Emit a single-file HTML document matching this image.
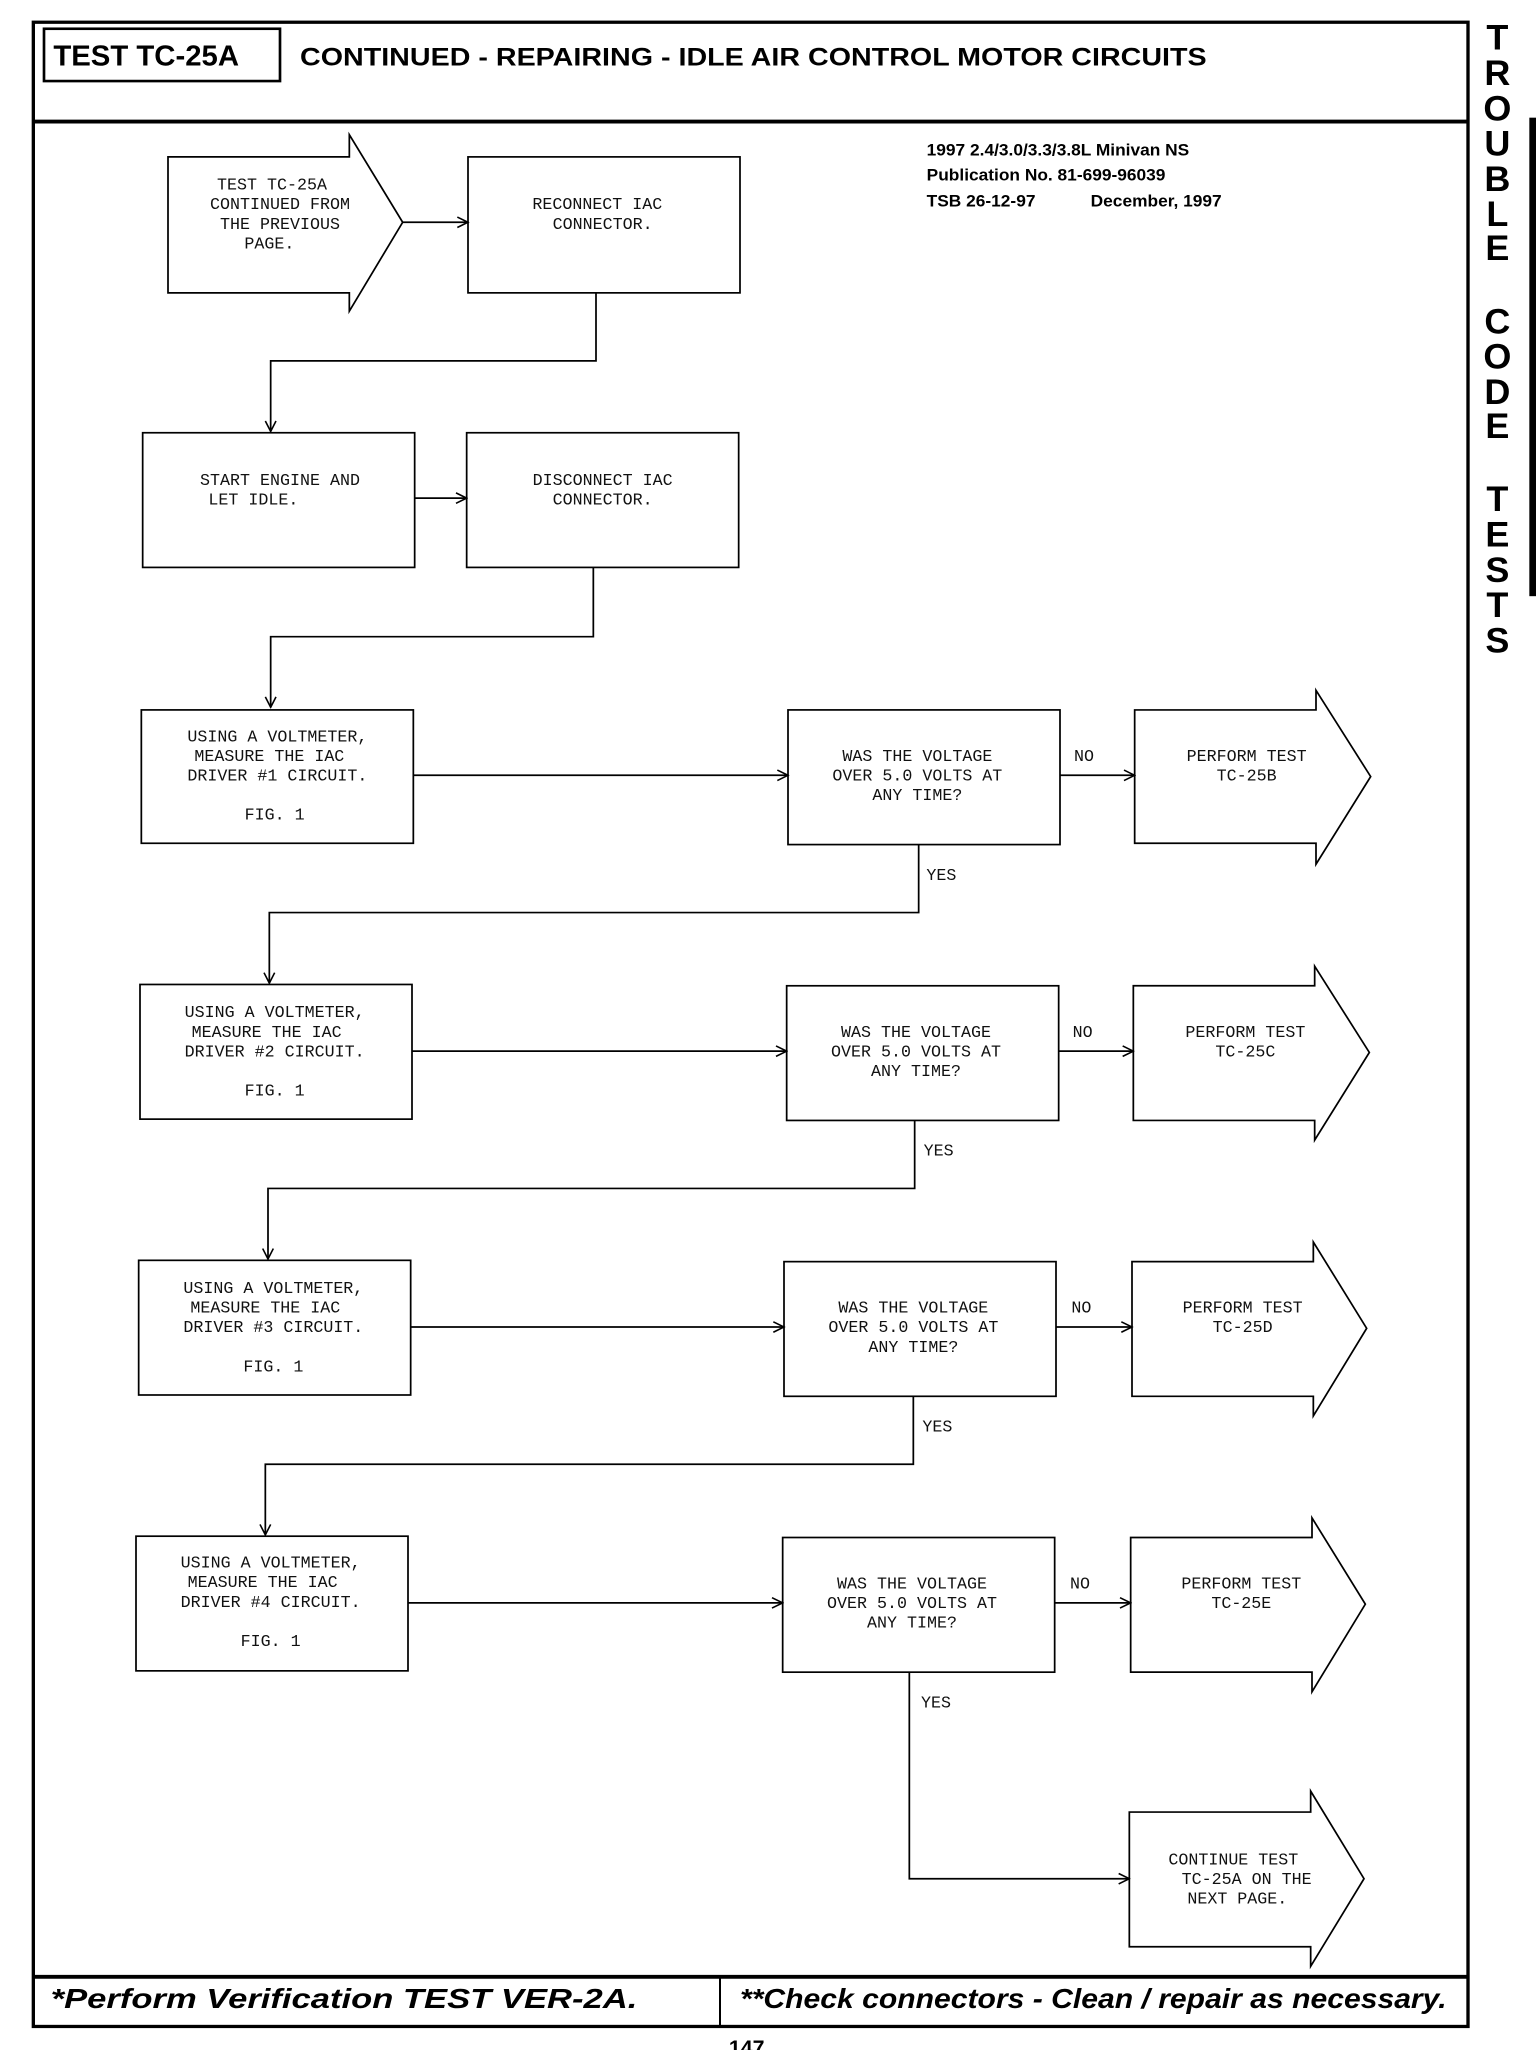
<!DOCTYPE html>
<html><head><meta charset="utf-8"><style>
html,body{margin:0;padding:0;background:#fff;}
svg{display:block;}
.m{font-family:"Liberation Mono",monospace;font-size:12.5px;fill:#111;}
.h{font-family:"Liberation Sans",sans-serif;font-weight:bold;fill:#000;}
</style></head><body>
<svg width="1536" height="2050" viewBox="0 0 1152 1568" preserveAspectRatio="none" xmlns="http://www.w3.org/2000/svg">
<defs><marker id="a" markerWidth="10" markerHeight="10" refX="9" refY="5" orient="auto" markerUnits="userSpaceOnUse"><path d="M1,1 L9,5 L1,9" fill="none" stroke="#000" stroke-width="1.2"/></marker></defs>
<g fill="none" stroke="#000">
<rect x="25" y="17" width="1076" height="1533" stroke-width="2.5"/>
<rect x="33" y="22" width="177" height="40" stroke-width="2"/>
<line x1="25" y1="93" x2="1101" y2="93" stroke-width="3"/>
<line x1="25" y1="1512" x2="1101" y2="1512" stroke-width="3"/>
<line x1="540" y1="1512" x2="540" y2="1550" stroke-width="1.5"/>
</g>
<rect x="1147" y="90" width="5" height="366" fill="#000"/>
<text class="h" x="40" y="50" font-size="22">TEST TC-25A</text>
<text class="h" x="225" y="50" font-size="19" textLength="680" lengthAdjust="spacingAndGlyphs">CONTINUED - REPAIRING - IDLE AIR CONTROL MOTOR CIRCUITS</text>
<g class="h" font-size="13" font-weight="normal" style="font-weight:600">
<text x="695" y="119">1997 2.4/3.0/3.3/3.8L Minivan NS</text>
<text x="695" y="138">Publication No. 81-699-96039</text>
<text x="695" y="158">TSB 26-12-97</text><text x="818" y="158">December, 1997</text>
</g>
<g class="h" font-size="27" text-anchor="middle">
<text x="1123" y="38">T</text><text x="1123" y="65">R</text><text x="1123" y="92">O</text><text x="1123" y="119">U</text><text x="1123" y="146">B</text><text x="1123" y="173">L</text><text x="1123" y="199">E</text>
<text x="1123" y="255">C</text><text x="1123" y="282">O</text><text x="1123" y="309">D</text><text x="1123" y="335">E</text>
<text x="1123" y="391">T</text><text x="1123" y="418">E</text><text x="1123" y="445">S</text><text x="1123" y="472">T</text><text x="1123" y="499">S</text>
</g>
<g class="h" font-size="21" font-style="italic">
<text x="38" y="1536" textLength="440" lengthAdjust="spacingAndGlyphs">*Perform Verification TEST VER-2A.</text>
<text x="555" y="1536" textLength="530" lengthAdjust="spacingAndGlyphs">**Check connectors - Clean / repair as necessary.</text>
</g>
<text class="h" x="560" y="1572" font-size="16" text-anchor="middle">147</text>

<g fill="none" stroke="#000" stroke-width="1.3">
<path d="M126,120 H262 V103 L302,170 L262,238 V224 H126 Z"/>
<rect x="351" y="120" width="204" height="104"/>
<line x1="302" y1="170" x2="351" y2="170" marker-end="url(#a)"/>
<path d="M447,224 V276 H203 V330" marker-end="url(#a)"/>
<rect x="107" y="331" width="204" height="103"/>
<rect x="350" y="331" width="204" height="103"/>
<line x1="311" y1="381" x2="350" y2="381" marker-end="url(#a)"/>
<path d="M445,434 V487 H203 V541" marker-end="url(#a)"/>
<!-- row1 -->
<rect x="106" y="543" width="204" height="102"/>
<rect x="591" y="543" width="204" height="103"/>
<path d="M851,543 H987 V528 L1028,594 L987,661 V645 H851 Z"/>
<line x1="310" y1="593" x2="591" y2="593" marker-end="url(#a)"/>
<line x1="795" y1="593" x2="851" y2="593" marker-end="url(#a)"/>
<path d="M689,646 V698 H202 V752" marker-end="url(#a)"/>
<!-- row2 -->
<rect x="105" y="753" width="204" height="103"/>
<rect x="590" y="754" width="204" height="103"/>
<path d="M850,754 H986 V739 L1027,805 L986,872 V857 H850 Z"/>
<line x1="309" y1="804" x2="590" y2="804" marker-end="url(#a)"/>
<line x1="794" y1="804" x2="850" y2="804" marker-end="url(#a)"/>
<path d="M686,857 V909 H201 V963" marker-end="url(#a)"/>
<!-- row3 -->
<rect x="104" y="964" width="204" height="103"/>
<rect x="588" y="965" width="204" height="103"/>
<path d="M849,965 H985 V950 L1025,1016 L985,1083 V1068 H849 Z"/>
<line x1="308" y1="1015" x2="588" y2="1015" marker-end="url(#a)"/>
<line x1="792" y1="1015" x2="849" y2="1015" marker-end="url(#a)"/>
<path d="M685,1068 V1120 H199 V1174" marker-end="url(#a)"/>
<!-- row4 -->
<rect x="102" y="1175" width="204" height="103"/>
<rect x="587" y="1176" width="204" height="103"/>
<path d="M848,1176 H984 V1161 L1024,1227 L984,1294 V1279 H848 Z"/>
<line x1="306" y1="1226" x2="587" y2="1226" marker-end="url(#a)"/>
<line x1="791" y1="1226" x2="848" y2="1226" marker-end="url(#a)"/>
<path d="M682,1279 V1437 H847" marker-end="url(#a)"/>
<path d="M847,1386 H983 V1370 L1023,1437 L983,1504 V1489 H847 Z"/>
</g>

<g class="m" text-anchor="middle">
<text x="204" y="145">TEST TC-25A</text><text x="210" y="160">CONTINUED FROM</text><text x="210" y="175">THE PREVIOUS</text><text x="202" y="190">PAGE.</text>
<text x="448" y="160">RECONNECT IAC</text><text x="452" y="175">CONNECTOR.</text>
<text x="210" y="371">START ENGINE AND</text><text x="190" y="386">LET IDLE.</text>
<text x="452" y="371">DISCONNECT IAC</text><text x="452" y="386">CONNECTOR.</text>

<text x="208" y="567">USING A VOLTMETER,</text><text x="202" y="582">MEASURE THE IAC</text><text x="208" y="597">DRIVER #1 CIRCUIT.</text><text x="206" y="627">FIG. 1</text>
<text x="688" y="582">WAS THE VOLTAGE</text><text x="688" y="597">OVER 5.0 VOLTS AT</text><text x="688" y="612">ANY TIME?</text>
<text x="935" y="582">PERFORM TEST</text><text x="935" y="597">TC-25B</text>
<text x="813" y="582">NO</text><text x="706" y="673">YES</text>

<text x="206" y="778">USING A VOLTMETER,</text><text x="200" y="793">MEASURE THE IAC</text><text x="206" y="808">DRIVER #2 CIRCUIT.</text><text x="206" y="838">FIG. 1</text>
<text x="687" y="793">WAS THE VOLTAGE</text><text x="687" y="808">OVER 5.0 VOLTS AT</text><text x="687" y="823">ANY TIME?</text>
<text x="934" y="793">PERFORM TEST</text><text x="934" y="808">TC-25C</text>
<text x="812" y="793">NO</text><text x="704" y="884">YES</text>

<text x="205" y="989">USING A VOLTMETER,</text><text x="199" y="1004">MEASURE THE IAC</text><text x="205" y="1019">DRIVER #3 CIRCUIT.</text><text x="205" y="1049">FIG. 1</text>
<text x="685" y="1004">WAS THE VOLTAGE</text><text x="685" y="1019">OVER 5.0 VOLTS AT</text><text x="685" y="1034">ANY TIME?</text>
<text x="932" y="1004">PERFORM TEST</text><text x="932" y="1019">TC-25D</text>
<text x="811" y="1004">NO</text><text x="703" y="1095">YES</text>

<text x="203" y="1199">USING A VOLTMETER,</text><text x="197" y="1214">MEASURE THE IAC</text><text x="203" y="1229">DRIVER #4 CIRCUIT.</text><text x="203" y="1259">FIG. 1</text>
<text x="684" y="1215">WAS THE VOLTAGE</text><text x="684" y="1230">OVER 5.0 VOLTS AT</text><text x="684" y="1245">ANY TIME?</text>
<text x="931" y="1215">PERFORM TEST</text><text x="931" y="1230">TC-25E</text>
<text x="810" y="1215">NO</text><text x="702" y="1306">YES</text>

<text x="925" y="1426">CONTINUE TEST</text><text x="935" y="1441">TC-25A ON THE</text><text x="928" y="1456">NEXT PAGE.</text>
</g>
</svg>
</body></html>
